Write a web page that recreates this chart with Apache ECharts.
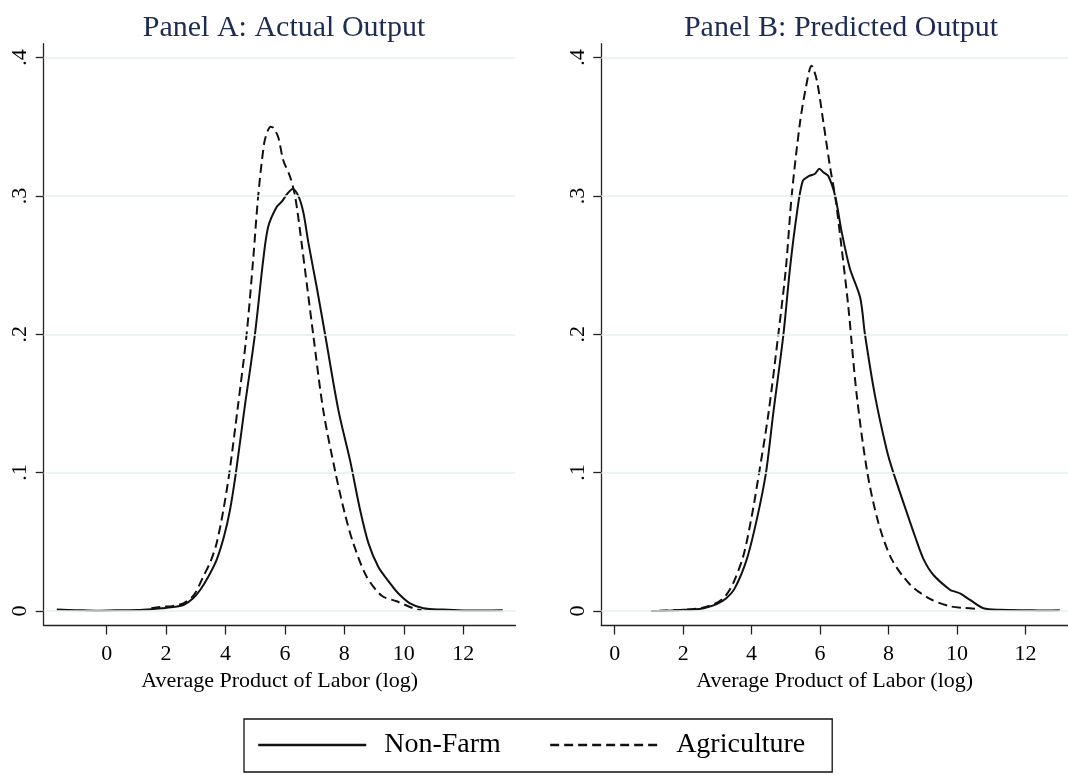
<!DOCTYPE html>
<html>
<head>
<meta charset="utf-8">
<script src="https://cdn.jsdelivr.net/npm/echarts@6/dist/echarts.min.js"></script>
<style>
  html, body { margin: 0; padding: 0; background: #fff; }
  #chart { width: 1068px; height: 775px; }
</style>
</head>
<body>
<div id="chart"></div>
<script>
// tick values
const xTicks = [0, 2, 4, 6, 8, 10, 12];
const yTicks = [0, 0.1, 0.2, 0.3, 0.4];

// Panel A: actual output (density of log APL)
const nonFarmAX = [-1.68, -1.0, -0.36, 0.3, 1.04, 1.5, 1.86, 2.3, 2.6, 2.9, 3.14, 3.4, 3.7, 3.95, 4.15, 4.35, 4.63, 4.99, 5.27, 5.44, 5.72, 5.9, 6.06, 6.26, 6.45, 6.62, 6.79, 7.07, 7.35, 7.8, 8.19, 8.53, 8.81, 9.14, 9.54, 9.81, 10.21, 10.66, 11.32, 12.0, 12.7, 13.33];
const nonFarmAY = [0.001, 0.0006, 0.0002, 0.0005, 0.0007, 0.0013, 0.002, 0.003, 0.0045, 0.009, 0.015, 0.024, 0.037, 0.054, 0.073, 0.1, 0.145, 0.2, 0.254, 0.278, 0.292, 0.296, 0.301, 0.305, 0.3, 0.288, 0.266, 0.234, 0.2, 0.145, 0.109, 0.073, 0.049, 0.032, 0.02, 0.0128, 0.0055, 0.002, 0.001, 0.0004, 0.0003, 0.0005];
const agricAX = [1.5, 1.86, 2.2, 2.6, 2.95, 3.25, 3.5, 3.7, 3.92, 4.13, 4.4, 4.71, 4.93, 5.1, 5.3, 5.42, 5.52, 5.62, 5.78, 5.94, 6.17, 6.34, 6.56, 6.95, 7.29, 7.7, 8.02, 8.3, 8.75, 9.26, 9.76, 10.31, 10.6];
const agricAY = [0.002, 0.003, 0.0035, 0.0057, 0.012, 0.0248, 0.036, 0.049, 0.072, 0.1, 0.145, 0.2, 0.254, 0.3, 0.338, 0.347, 0.35, 0.349, 0.342, 0.326, 0.314, 0.3, 0.266, 0.2, 0.145, 0.1, 0.07, 0.049, 0.0248, 0.011, 0.007, 0.002, 0.0005];

// Panel B: predicted output
const nonFarmBX = [1.06, 1.5, 2.0, 2.3, 2.6, 2.98, 3.25, 3.51, 3.86, 4.15, 4.42, 4.63, 4.93, 5.12, 5.32, 5.49, 5.68, 5.85, 5.98, 6.1, 6.24, 6.44, 6.63, 6.87, 7.17, 7.31, 7.6, 7.95, 8.14, 8.63, 8.77, 9.02, 9.31, 9.8, 9.94, 10.1, 10.38, 10.77, 11.26, 12.2, 12.6, 13.0];
const nonFarmBY = [0, 0.0002, 0.0008, 0.001, 0.002, 0.005, 0.009, 0.0165, 0.0375, 0.066, 0.1, 0.1425, 0.2, 0.2475, 0.287, 0.3105, 0.3144, 0.316, 0.3197, 0.317, 0.3144, 0.3, 0.274, 0.2475, 0.2265, 0.2, 0.156, 0.116, 0.1, 0.064, 0.054, 0.0375, 0.026, 0.0152, 0.014, 0.0125, 0.008, 0.002, 0.0008, 0.0005, 0.0003, 0.0005];
const agricBX = [1.3, 2.0, 2.6, 2.9, 3.08, 3.27, 3.47, 3.76, 4.0, 4.22, 4.49, 4.78, 5.0, 5.17, 5.41, 5.59, 5.75, 5.9, 6.1, 6.29, 6.45, 6.63, 6.82, 7.07, 7.38, 7.7, 8.09, 8.63, 9.21, 9.8, 10.2, 10.6];
const agricBY = [0.0002, 0.0008, 0.0025, 0.005, 0.0073, 0.012, 0.0205, 0.04, 0.068, 0.1, 0.1425, 0.2, 0.2475, 0.3, 0.3525, 0.379, 0.394, 0.384, 0.3525, 0.321, 0.298, 0.262, 0.221, 0.156, 0.1, 0.064, 0.0375, 0.019, 0.0087, 0.0034, 0.0022, 0.0015];

const font = 'Liberation Serif';
const zip = (xs, ys) => xs.map((x, i) => [x, ys[i]]);

function xAxisFor(idx, min, max) {
  return {
    type: 'value', gridIndex: idx, min: min, max: max,
    axisLine: { onZero: false, lineStyle: { color: '#222', width: 1.3 } },
    axisTick: { customValues: xTicks, length: 9, lineStyle: { color: '#222', width: 1.3 } },
    axisLabel: { customValues: xTicks, fontFamily: font, fontSize: 22, color: '#000', margin: 18 },
    splitLine: { show: false },
    name: 'Average Product of Labor (log)', nameLocation: 'middle', nameGap: 39,
    nameTextStyle: { fontFamily: font, fontSize: 22, color: '#000' }
  };
}
function yAxisFor(idx) {
  return {
    type: 'value', gridIndex: idx, min: -0.0105, max: 0.41,
    axisLine: { show: true, onZero: false, lineStyle: { color: '#222', width: 1.3 } },
    axisTick: { show: true, customValues: yTicks, length: 8, lineStyle: { color: '#222', width: 1.3 } },
    axisLabel: {
      customValues: yTicks, rotate: 90, fontFamily: font, fontSize: 22, color: '#000', margin: 12,
      formatter: v => v === 0 ? '0' : '.' + Math.round(v * 10)
    },
    splitLine: { show: false }
  };
}
// light horizontal grid at the y ticks
function gridLines(idx) {
  return {
    type: 'line', xAxisIndex: idx, yAxisIndex: idx, data: [], silent: true, z: 1,
    markLine: {
      silent: true, symbol: ['none', 'none'], label: { show: false },
      lineStyle: { color: '#e6eff1', width: 1.6, type: 'solid' },
      data: yTicks.map(v => ({ yAxis: v }))
    }
  };
}
function curve(name, idx, xs, ys, dashed) {
  return {
    name: name, type: 'line', xAxisIndex: idx, yAxisIndex: idx, z: 3,
    data: zip(xs, ys), symbol: 'none', showSymbol: false, smooth: 0.3,
    lineStyle: { color: '#111', width: 2, type: dashed ? [9, 5] : 'solid' }
  };
}

const chart = echarts.init(document.getElementById('chart'));
chart.setOption({
  animation: false,
  backgroundColor: '#fff',
  title: [
    { text: 'Panel A: Actual Output', left: 279, top: 8, textAlign: 'center',
      textStyle: { fontFamily: font, fontSize: 30, fontWeight: 'normal', color: '#1e2b55' } },
    { text: 'Panel B: Predicted Output', left: 836, top: 8, textAlign: 'center',
      textStyle: { fontFamily: font, fontSize: 30, fontWeight: 'normal', color: '#1e2b55' } }
  ],
  grid: [
    { left: 43.7, top: 43.7, width: 471.8, height: 581.8 },
    { left: 601.3, top: 43.7, width: 466.7, height: 581.8 }
  ],
  xAxis: [xAxisFor(0, -2.12, 13.76), xAxisFor(1, -0.39, 13.24)],
  yAxis: [yAxisFor(0), yAxisFor(1)],
  legend: {
    data: ['Non-Farm', 'Agriculture'],
    left: 244, top: 719,
    padding: [12, 27, 13, 13],
    itemWidth: 108, itemHeight: 14, itemGap: 48,
    borderColor: '#111', borderWidth: 1.3,
    itemStyle: { opacity: 0 },
    lineStyle: { width: 2.5, color: '#111' },
    textStyle: { fontFamily: font, fontSize: 28, color: '#000', padding: [0, 0, 0, 13] }
  },
  series: [
    gridLines(0), gridLines(1),
    curve('Non-Farm', 0, nonFarmAX, nonFarmAY, false),
    curve('Agriculture', 0, agricAX, agricAY, true),
    curve('Non-Farm', 1, nonFarmBX, nonFarmBY, false),
    curve('Agriculture', 1, agricBX, agricBY, true)
  ]
});
</script>
</body>
</html>
